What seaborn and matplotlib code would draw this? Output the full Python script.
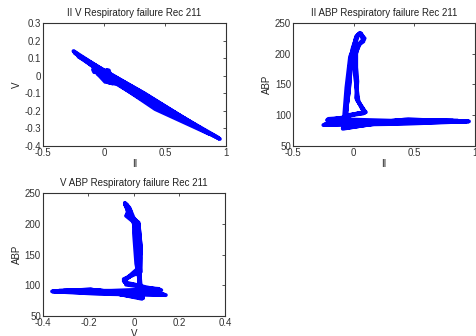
"""Phase plots of ECG leads II, V and ABP (Respiratory failure, Rec 211)."""

import matplotlib
matplotlib.use("Agg")
import matplotlib.pyplot as plt
import seaborn as sns

ii = [
    -0.06, -0.24, 0.35, 0.93, 0.40, -0.08, -0.07, -0.04, -0.02, 0.00, 0.03,
    0.06, 0.08, 0.04, 0.02, 0.02, 0.03, 0.08, 0.09, 0.02, -0.06,
    -0.07, -0.22, 0.30, 0.82, 0.45, -0.06, -0.06, -0.05, -0.03, -0.01, 0.02,
    0.05, 0.09, 0.05, 0.01, 0.01, 0.04, 0.07, 0.10, 0.03, -0.05,
    -0.05, -0.25, 0.40, 0.95, 0.35, -0.09, -0.08, -0.06, -0.03, 0.01, 0.04,
    0.07, 0.08, 0.03, 0.01, 0.03, 0.02, 0.09, 0.08, 0.01, -0.07,
    -0.06, -0.21, 0.33, 0.86, 0.42, -0.07, -0.07, -0.04, -0.02, 0.00, 0.02,
    0.06, 0.08, 0.05, 0.02, 0.02, 0.03, 0.08, 0.09, 0.02, -0.06,
]
v = [
    0.04, 0.13, -0.12, -0.35, -0.17, 0.04, 0.03, 0.02, 0.01, -0.01, -0.03,
    -0.035, -0.02, -0.03, 0.02, 0.03, 0.02, -0.04, -0.035, -0.03, 0.02,
    0.05, 0.12, -0.09, -0.31, -0.19, 0.04, 0.03, 0.01, 0.00, 0.00, -0.02,
    -0.04, -0.03, -0.025, 0.01, 0.025, 0.03, -0.045, -0.04, -0.02, 0.03,
    0.03, 0.14, -0.15, -0.36, -0.15, 0.035, 0.02, 0.03, 0.02, -0.02, -0.04,
    -0.03, -0.015, -0.035, 0.015, 0.03, 0.02, -0.045, -0.035, -0.035, 0.025,
    0.04, 0.11, -0.10, -0.33, -0.19, 0.04, 0.025, 0.02, 0.01, -0.01, -0.03,
    -0.04, -0.025, -0.03, 0.02, 0.03, 0.02, -0.04, -0.04, -0.03, 0.03,
]
abp = [
    96, 85, 87, 90, 92, 79, 96, 140, 190, 212, 230,
    232, 222, 215, 200, 160, 125, 108, 104, 102, 100,
    97, 92, 89, 91, 93, 82, 97, 135, 185, 208, 226,
    234, 225, 217, 205, 165, 122, 110, 105, 103, 99,
    95, 84, 86, 90, 92, 78, 95, 145, 195, 215, 232,
    230, 220, 213, 198, 155, 128, 107, 103, 101, 98,
    96, 94, 91, 91, 93, 80, 96, 138, 188, 210, 228,
    233, 223, 216, 202, 162, 124, 109, 105, 102, 99,
]

record = "Respiratory failure Rec 211"

sns.set_style("white")
plt.rcParams["font.family"] = ["Liberation Sans", "DejaVu Sans"]
plt.rcParams["font.size"] = 7

fig = plt.figure(figsize=(4.77, 3.36), dpi=100)

panels = [
    # (x, y, xname, yname, xlim, ylim, xticks, yticks, position)
    (ii, v, "II", "V", (-0.5, 1), (-0.4, 0.3),
     [-0.5, 0, 0.5, 1], [-0.4, -0.3, -0.2, -0.1, 0, 0.1, 0.2, 0.3],
     [0.0901, 0.5655, 0.3836, 0.3661]),
    (ii, abp, "II", "ABP", (-0.5, 1), (50, 250),
     [-0.5, 0, 0.5, 1], [50, 100, 150, 200, 250],
     [0.6143, 0.5655, 0.3816, 0.3661]),
    (v, abp, "V", "ABP", (-0.4, 0.4), (50, 250),
     [-0.4, -0.2, 0, 0.2, 0.4], [50, 100, 150, 200, 250],
     [0.0901, 0.0595, 0.3816, 0.3661]),
]

for x, y, xname, yname, xlim, ylim, xticks, yticks, pos in panels:
    ax = fig.add_axes(pos)
    sns.lineplot(x=x, y=y, sort=False, estimator=None, color="blue",
                 linewidth=2.8, ax=ax)
    ax.set_xlim(xlim)
    ax.set_ylim(ylim)
    ax.set_xticks(xticks)
    ax.set_yticks(yticks)
    ax.set_xticklabels([f"{t:g}" for t in xticks])
    ax.set_yticklabels([f"{t:g}" for t in yticks])
    ax.set_title(f"{xname} {yname} {record}", fontsize=7, color="#222222", pad=5)
    ax.set_xlabel(xname, color="#222222", labelpad=1)
    ax.set_ylabel(yname, color="#222222", labelpad=2)
    ax.tick_params(direction="in", top=True, right=True, length=2.5,
                   width=0.6, colors="#333333", labelsize=7, pad=1.5)
    for spine in ax.spines.values():
        spine.set_visible(True)
        spine.set_color("#333333")
        spine.set_linewidth(0.8)

fig.savefig("out.png", dpi=100, facecolor="white")
